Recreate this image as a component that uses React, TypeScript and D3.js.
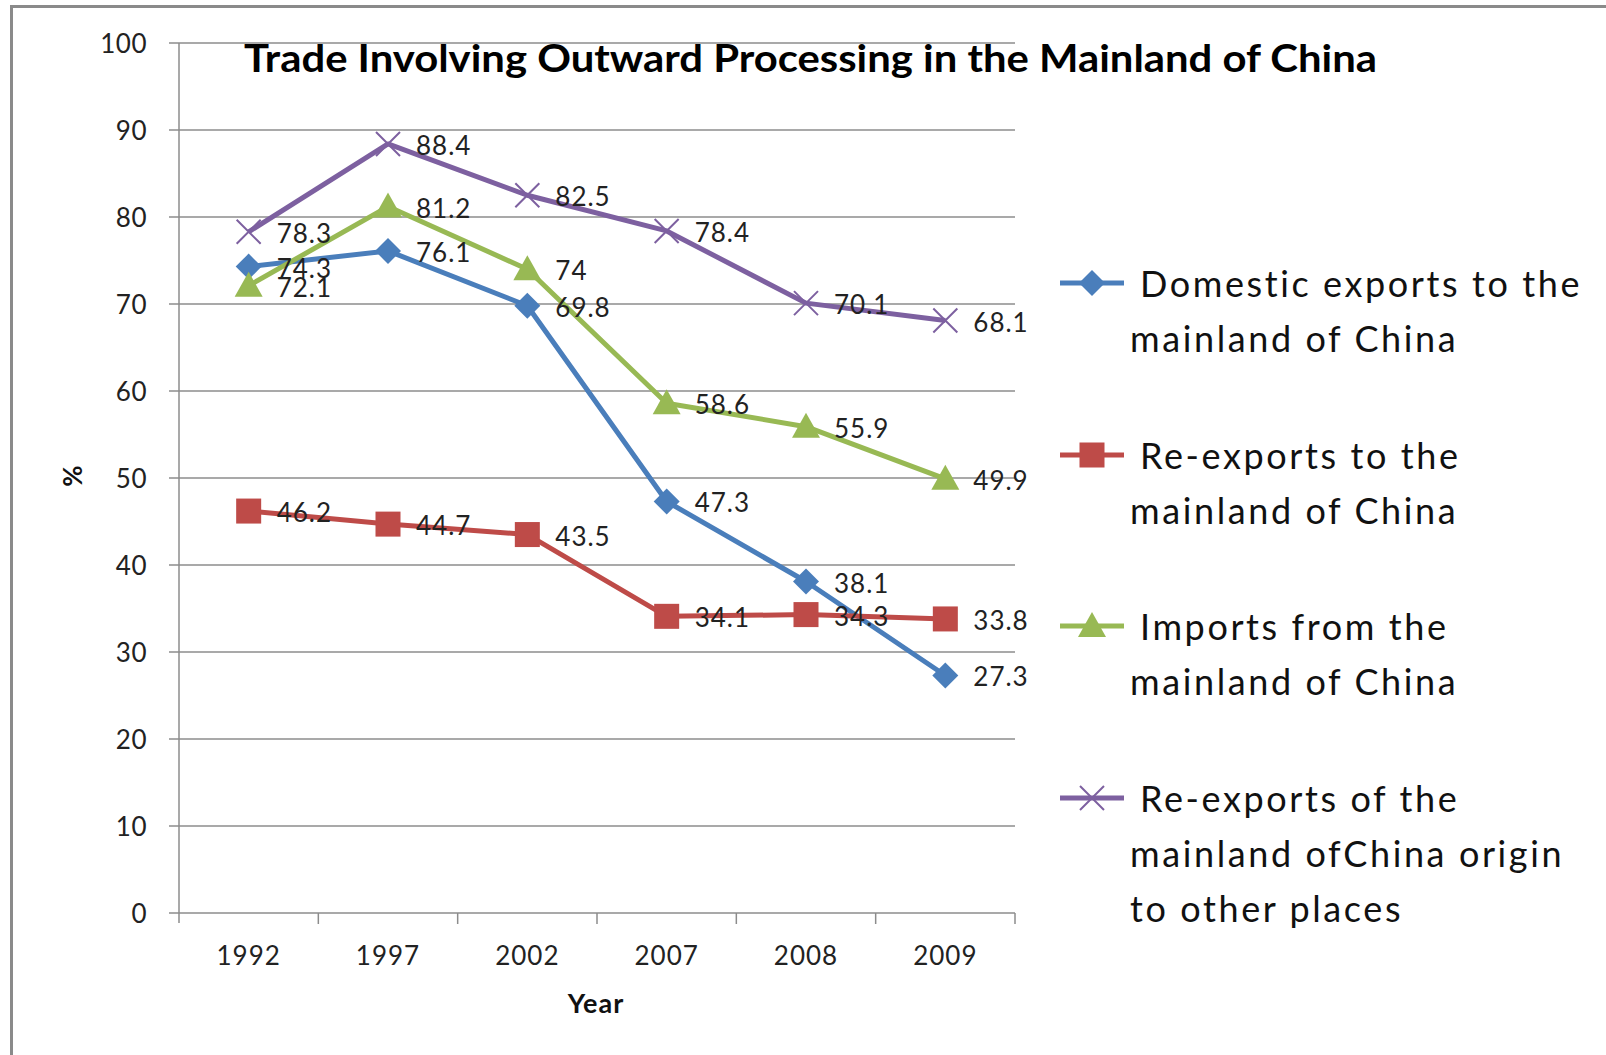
import React from "react";
import * as d3 from "d3";

const years = ["1992", "1997", "2002", "2007", "2008", "2009"];
const domesticExports = [74.3, 76.1, 69.8, 47.3, 38.1, 27.3];
const reExports = [46.2, 44.7, 43.5, 34.1, 34.3, 33.8];
const imports = [72.1, 81.2, 74, 58.6, 55.9, 49.9];
const reExportsOrigin = [78.3, 88.4, 82.5, 78.4, 70.1, 68.1];
const yTicks = [0, 10, 20, 30, 40, 50, 60, 70, 80, 90, 100];

const seriesNames = [
  ["Domestic exports to the", "mainland of China"],
  ["Re-exports to the", "mainland of China"],
  ["Imports from the", "mainland of China"],
  ["Re-exports of the", "mainland ofChina origin", "to other places"],
];

const colors = ["#4A7EBB", "#BE4B48", "#98B954", "#7D60A0"];
const markers = ["diamond", "square", "triangle", "cross"];

const W = 1606;
const H = 1055;
const FONT = "Lato, 'Open Sans', sans-serif";

function Marker({ type, x, y, color }: { type: string; x: number; y: number; color: string }) {
  if (type === "diamond") {
    const r = 13;
    return <path d={`M${x},${y - r}L${x + r},${y}L${x},${y + r}L${x - r},${y}Z`} fill={color} />;
  }
  if (type === "square") {
    const r = 12.5;
    return <rect x={x - r} y={y - r} width={2 * r} height={2 * r} fill={color} />;
  }
  if (type === "triangle") {
    return <path d={`M${x},${y - 14}L${x + 14},${y + 11}L${x - 14},${y + 11}Z`} fill={color} />;
  }
  const r = 12;
  return (
    <path
      d={`M${x - r},${y - r}L${x + r},${y + r}M${x - r},${y + r}L${x + r},${y - r}`}
      stroke={color}
      strokeWidth={2}
      fill="none"
    />
  );
}

export default function App() {
  const x0 = 179;
  const x1 = 1015;
  const y = d3.scaleLinear().domain([0, 100]).range([913, 43]);
  const x = d3.scaleBand<string>().domain(years).range([x0, x1]);
  const cx = (c: string) => (x(c) as number) + x.bandwidth() / 2;

  const allSeries = [domesticExports, reExports, imports, reExportsOrigin];
  const line = d3
    .line<number>()
    .x((_, i) => cx(years[i]))
    .y((d) => y(d));

  const legendY = [283, 455, 626, 798];
  const legendLineH = 55;

  return (
    <svg
      width={W}
      height={H}
      style={{ position: "absolute", left: 0, top: 0, background: "#fff" }}
      fontFamily={FONT}
    >
      <rect x={0} y={0} width={W} height={H} fill="#fff" />
      <path d={`M11.5,${H}L11.5,6.5L${W},6.5`} stroke="#8a8a8a" strokeWidth={3} fill="none" />

      {/* gridlines */}
      {yTicks.map((t) => (
        <g key={t}>
          <line x1={169} x2={x1} y1={y(t)} y2={y(t)} stroke="#8c8c8c" strokeWidth={1.5} />
          <text x={147} y={y(t)} textAnchor="end" dominantBaseline="central" fontSize={26} fill="#222" letterSpacing={0.5}>
            {t}
          </text>
        </g>
      ))}
      {/* y axis */}
      <line x1={x0} x2={x0} y1={y(100)} y2={y(0) + 10} stroke="#8c8c8c" strokeWidth={1.5} />
      {/* x ticks */}
      {years.map((c) => (
        <line
          key={c}
          x1={(x(c) as number) + x.bandwidth()}
          x2={(x(c) as number) + x.bandwidth()}
          y1={y(0)}
          y2={y(0) + 11}
          stroke="#8c8c8c"
          strokeWidth={1.5}
        />
      ))}
      {years.map((c) => (
        <text key={c} x={cx(c)} y={955} textAnchor="middle" dominantBaseline="central" fontSize={26} fill="#222" letterSpacing={1}>
          {c}
        </text>
      ))}
      <text x={596} y={1002} textAnchor="middle" dominantBaseline="central" fontSize={27} fontWeight="bold" fill="#111" letterSpacing={1}>
        Year
      </text>
      <text
        transform={`translate(72,476) rotate(-90)`}
        textAnchor="middle"
        dominantBaseline="central"
        fontSize={26}
        fontWeight="bold"
        fill="#111"
      >
        %
      </text>

      {/* title */}
      <text x={244} y={72} fontSize={38} fontWeight="bold" fill="#000" textLength={1133} lengthAdjust="spacingAndGlyphs">
        Trade Involving Outward Processing in the Mainland of China
      </text>

      {/* series */}
      {allSeries.map((s, si) => (
        <g key={si}>
          <path d={line(s) as string} stroke={colors[si]} strokeWidth={5} fill="none" strokeLinejoin="round" />
          {s.map((v, i) => (
            <Marker key={i} type={markers[si]} x={cx(years[i])} y={y(v)} color={colors[si]} />
          ))}
        </g>
      ))}
      {allSeries.map((s, si) => (
        <g key={"l" + si}>
          {s.map((v, i) => (
            <text
              key={i}
              x={cx(years[i]) + 28}
              y={y(v) + 1}
              dominantBaseline="central"
              fontSize={26}
              fill="#222"
              letterSpacing={1}
            >
              {String(v)}
            </text>
          ))}
        </g>
      ))}

      {/* legend */}
      {seriesNames.map((lines, si) => (
        <g key={"leg" + si}>
          <line x1={1060} x2={1124} y1={legendY[si]} y2={legendY[si]} stroke={colors[si]} strokeWidth={5} />
          <Marker type={markers[si]} x={1092} y={legendY[si]} color={colors[si]} />
          {lines.map((t, li) => (
            <text
              key={li}
              x={li === 0 ? 1140 : 1130}
              y={legendY[si] + li * legendLineH}
              dominantBaseline="central"
              fontSize={36}
              fill="#111"
              letterSpacing={2.6}
            >
              {t}
            </text>
          ))}
        </g>
      ))}
    </svg>
  );
}
